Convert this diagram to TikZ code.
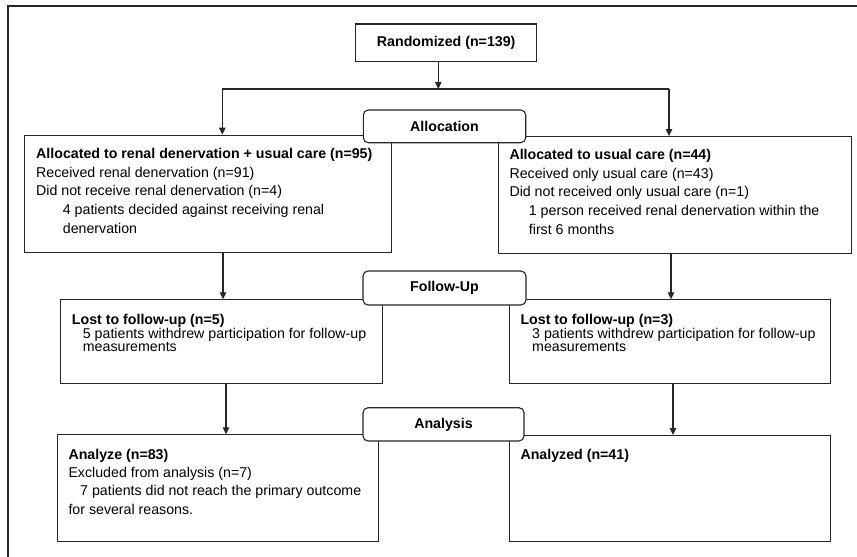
\documentclass[tikz,border=0pt]{standalone}
\usepackage{fontspec}
\setmainfont{Liberation Sans}
\usetikzlibrary{arrows.meta}
\tikzset{
  box/.style={draw=black!85, line width=1.1pt, fill=white, inner sep=0pt, anchor=north west},
  rbox/.style={box, rounded corners=5pt, font=\fontsize{14.2}{16}\selectfont\bfseries, anchor=center},
  txt/.style={anchor=base west, inner sep=0pt, font=\fontsize{14.2}{16}\selectfont},
  ln/.style={draw=black!85, line width=1.1pt},
  arr/.style={ln, -{Triangle[length=7pt,width=6.5pt]}},
}
\begin{document}
\begin{tikzpicture}[x=1pt,y=-1pt]
\useasboundingbox (0,0) rectangle (857,557);
% outer frame
\draw[line width=2pt, black!85] (7.5,558) -- (7.5,5.8) -- (858,5.8);
% main boxes
\node[box, minimum width=181pt, minimum height=37.7pt, anchor=center, font=\fontsize{14.2}{16}\selectfont\bfseries] (rand) at (446.2,42.85) {Randomized (n=139)};
\node[box, minimum width=366.7pt, minimum height=117.6pt] (L1) at (24.3,134.7) {};
\node[box, minimum width=353.6pt, minimum height=117.3pt] (R1) at (497.7,136) {};
\node[box, minimum width=321.7pt, minimum height=84pt] (L2) at (60,299.3) {};
\node[box, minimum width=320.4pt, minimum height=84pt] (R2) at (509.3,299.3) {};
\node[box, minimum width=321pt, minimum height=106.4pt] (L3) at (56.7,434.3) {};
\node[box, minimum width=320.4pt, minimum height=105.7pt] (R3) at (509.3,435) {};
% texts
\node[txt] (l1a) at (36,158.5) {\bfseries Allocated to renal denervation + usual care (n=95)};
\node[txt] (l1b) at (36,177.2) {Received renal denervation (n=91)};
\node[txt] (l1c) at (36,195.9) {Did not receive renal denervation (n=4)};
\node[txt] (l1d) at (62.7,214.6) {4 patients decided against receiving renal};
\node[txt] (l1e) at (62.7,233) {denervation};
\node[txt] (r1a) at (509.3,159.5) {\bfseries Allocated to usual care (n=44)};
\node[txt] (r1b) at (509.3,178.2) {Received only usual care (n=43)};
\node[txt] (r1c) at (509.3,196.9) {Did not received only usual care (n=1)};
\node[txt] (r1d) at (528.7,215.6) {1 person received renal denervation within the};
\node[txt] (r1e) at (528.7,234) {first 6 months};
\node[txt] (l2a) at (71.7,324.3) {\bfseries Lost to follow-up (n=5)};
\node[txt] (l2b) at (82.7,338.2) {5 patients withdrew participation for follow-up};
\node[txt] (l2c) at (82.7,351.9) {measurements};
\node[txt] (r2a) at (520.3,324.3) {\bfseries Lost to follow-up (n=3)};
\node[txt] (r2b) at (532,338.2) {3 patients withdrew participation for follow-up};
\node[txt] (r2c) at (532,351.9) {measurements};
\node[txt] (l3a) at (68.3,459) {\bfseries Analyze (n=83)};
\node[txt] (l3b) at (68.3,477.7) {Excluded from analysis (n=7)};
\node[txt] (l3c) at (80,495.9) {7 patients did not reach the primary outcome};
\node[txt] (l3d) at (68.3,514.2) {for several reasons.};
\node[txt] (r3a) at (520.3,459.5) {\bfseries Analyzed (n=41)};
% connectors
\coordinate (sp) at (438.3,89);
\coordinate (spL) at (222.3,89);
\coordinate (spR) at (669,89);
\coordinate (vL1) at (223,270);
\coordinate (vR1) at (671,270);
\coordinate (vL2) at (226,400);
\coordinate (vR2) at (673,400);
\draw[arr] (rand.south -| sp) -- (sp);
\draw[ln] (spL) -- (spR);
\draw[arr] (spL) -- (spL |- L1.north);
\draw[arr] (spR) -- (spR |- R1.north);
\draw[arr] (L1.south -| vL1) -- (L2.north -| vL1);
\draw[arr] (R1.south -| vR1) -- (R2.north -| vR1);
\draw[arr] (L2.south -| vL2) -- (L3.north -| vL2);
\draw[arr] (R2.south -| vR2) -- (R3.north -| vR2);
% stage labels
\node[rbox, minimum width=162.4pt, minimum height=32.7pt] (alloc) at (444.5,126.35) {Allocation};
\node[rbox, minimum width=163pt, minimum height=34pt] (fu) at (444.5,288) {Follow-Up};
\node[rbox, minimum width=161pt, minimum height=33.3pt] (an) at (443.5,424.35) {Analysis};
\end{tikzpicture}
\end{document}
